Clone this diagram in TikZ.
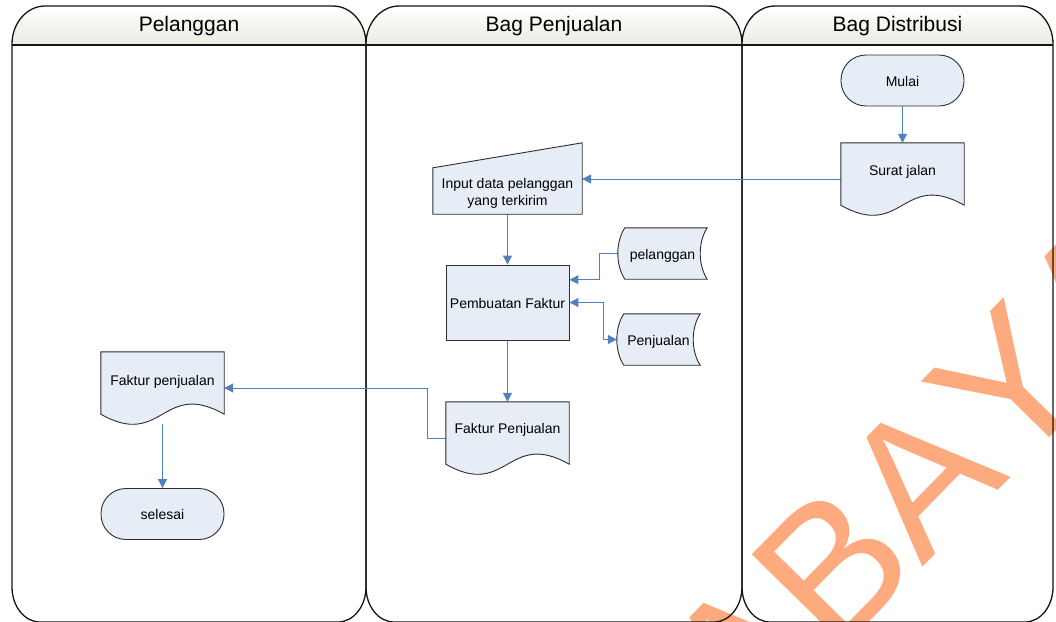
\documentclass[tikz,border=0pt]{standalone}
\usepackage{fontspec}
\setmainfont{Liberation Sans}
\newfontfamily\wmfont[Kerning=Off]{Liberation Sans}
\usetikzlibrary{arrows.meta,calc}

\pgfdeclarelayer{bg}
\pgfdeclarelayer{conn}
\pgfdeclarelayer{shapes}
\pgfsetlayers{bg,conn,shapes,main}

\definecolor{laneline}{RGB}{20,20,20}
\definecolor{headtop}{RGB}{255,255,255}
\definecolor{headbot}{RGB}{234,235,224}
\definecolor{shapefill}{RGB}{231,237,247}
\definecolor{shapeline}{RGB}{45,45,45}
\definecolor{connblue}{RGB}{79,129,189}
\definecolor{wmcolor}{RGB}{253,170,126}

\tikzset{
  lane/.style={draw=laneline, line width=1.3pt},
  header/.style={top color=headtop, bottom color=headbot},
  title/.style={inner sep=0pt, font=\fontsize{21}{25}\selectfont, text=black},
  box/.style={minimum width=123pt, inner sep=0pt, font=\fontsize{14}{17}\selectfont,
              text height=11pt, text depth=0pt},
  outline/.style={fill=shapefill, draw=shapeline, line width=0.9pt, line join=miter},
  terminal/.style={box, outline, rounded corners=25pt, minimum height=51pt},
  process/.style={box, outline, minimum height=75pt},
  docbox/.style={box, minimum height=72pt},
  inbox/.style={box, minimum width=149pt, minimum height=71pt},
  storebox/.style={box, minimum height=51pt},
  caption/.style={inner sep=0pt, font=\fontsize{14}{17}\selectfont, align=center},
  linecaption/.style={caption, text height=11pt, text depth=0pt},
  conn/.style={draw=connblue, line width=1pt, -{Triangle[length=9pt,width=9pt]}},
  conn2/.style={draw=connblue, line width=1pt, {Triangle[length=9pt,width=9pt]}-{Triangle[length=9pt,width=9pt]}},
}

\begin{document}
\begin{tikzpicture}[x=1pt, y=-1pt]
\useasboundingbox (0,0) rectangle (1056,621);

% watermark and swimlanes
\begin{pgfonlayer}{bg}
  \node[rotate=45.5, anchor=base west, inner sep=0pt, text=wmcolor,
        font=\wmfont\fontsize{190}{190}\selectfont] (wm) at (464,1034) {SURABAYA};
  \foreach \xl/\xr/\lname/\ttl in {12/366/lanea/Pelanggan, 366/742/laneb/Bag Penjualan, 742/1053/lanec/Bag Distribusi} {
    \path[header] (\xl,45) -- (\xl,44) .. controls (\xl,23) and (\xl+15,6) .. (\xl+33,6)
      -- (\xr-33,6) .. controls (\xr-15,6) and (\xr,23) .. (\xr,44) -- (\xr,45) -- cycle;
    \draw[lane] (\xl,44) -- (\xl,587) .. controls (\xl,606.3) and (\xl+12.5,622) .. (\xl+28,622)
      -- (\xr-28,622) .. controls (\xr-12.5,622) and (\xr,606.3) .. (\xr,587)
      -- (\xr,44) .. controls (\xr,23) and (\xr-15,6) .. (\xr-33,6)
      -- (\xl+33,6) .. controls (\xl+15,6) and (\xl,23) .. (\xl,44) -- cycle;
    \draw[lane] (\xl,45) -- (\xr,45);
    \node[title] (\lname) at ({(\xl+\xr)/2},26) {\ttl};
  }
\end{pgfonlayer}

% flow nodes
\node[terminal] (mulai) at (902.5,80.5) {Mulai};
\node[docbox] (surat) at (902.5,179) {};
\node[linecaption] (surat-text) at ($(surat.center)+(0,-9)$) {Surat jalan};
\node[inbox] (input) at (507.5,178.5) {};
\node[caption] (input-text) at ($(input.center)+(0,15)$) {Input data pelanggan\\yang terkirim};
\node[process] (pemb) at (507.5,302.5) {Pembuatan Faktur};
\node[storebox, minimum width=89pt] (pel) at (662.5,253.5) {pelanggan};
\node[storebox, minimum width=83pt] (penj) at (658.5,339.5) {Penjualan};
\node[docbox] (fpj) at (507.5,438) {};
\node[linecaption] (fpj-text) at ($(fpj.center)+(0,-10)$) {Faktur Penjualan};
\node[docbox] (fp) at (162.5,388) {};
\node[linecaption] (fp-text) at ($(fp.center)+(0,-8)$) {Faktur penjualan};
\node[terminal] (selesai) at (162.5,514) {selesai};

% outlines of documents, stored data and manual input
\begin{pgfonlayer}{shapes}
  \foreach \d in {surat,fpj,fp} {
    \path[outline] (\d.north west) -- (\d.north east) -- ($(\d.south east)+(0,-10)$)
      .. controls ($(\d.south)+(0,-45)$) and ($(\d.south)+(0,25)$) .. ($(\d.south west)+(0,-10)$) -- cycle;
  }
  \foreach \s in {pel,penj} {
    \path[outline] ($(\s.north west)+(7,0)$) -- (\s.north east)
      .. controls ($(\s.north east)+(-9.3,14)$) and ($(\s.south east)+(-9.3,-14)$) .. (\s.south east)
      -- ($(\s.south west)+(7,0)$)
      .. controls ($(\s.south west)+(-2.3,-14)$) and ($(\s.north west)+(-2.3,14)$) .. ($(\s.north west)+(7,0)$) -- cycle;
  }
  \path[outline] ($(input.north west)+(0,25)$) -- (input.north east) -- (input.south east) -- (input.south west) -- cycle;
\end{pgfonlayer}

% connectors
\begin{pgfonlayer}{conn}
  \draw[conn] (mulai) -- (surat);
  \draw[conn] (surat.west) -- (surat.west -| input.east);
  \draw[conn] (input) -- (pemb);
  \draw[conn] (pel.west) -- ++(-18,0) |- ($(pemb.north east)!0.2!(pemb.south east)$);
  \draw[conn2] (pemb.east) -- ++(34,0) |- (penj.west);
  \draw[conn] (pemb) -- (fpj);
  \draw[conn] (fpj.west) -- ++(-18,0) |- (fp.east);
  \draw[conn] (fp) -- (selesai);
\end{pgfonlayer}
\end{tikzpicture}
\end{document}
